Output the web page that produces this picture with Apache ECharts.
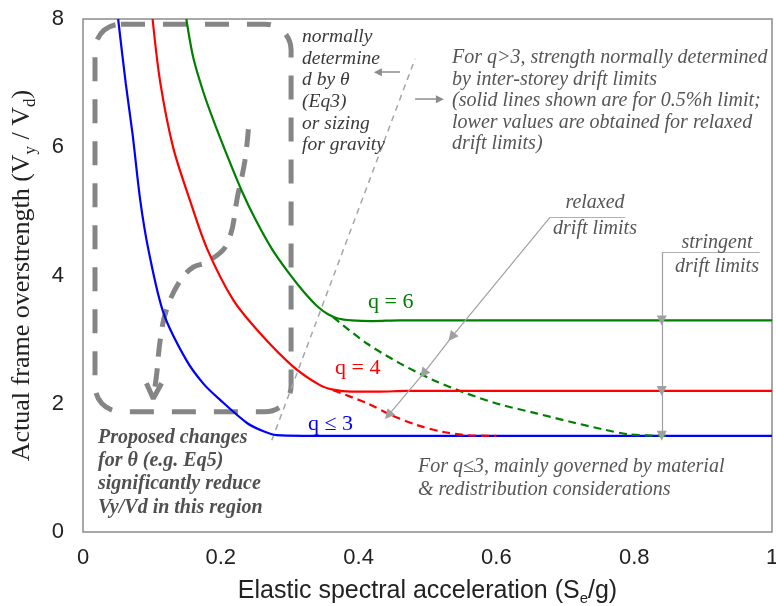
<!DOCTYPE html>
<html>
<head>
<meta charset="utf-8">
<script src="https://cdn.jsdelivr.net/npm/echarts@6/dist/echarts.min.js"></script>
<style>
  html, body { margin: 0; padding: 0; background: #fff; }
  #chart { width: 776px; height: 606px; }
</style>
</head>
<body>
<div id="chart"></div>
<script>
// values, pairs of [Se/g, Vy/Vd]
var q3Solid = [[0.051, 8], [0.062, 7.0], [0.072, 6.2], [0.083, 5.18], [0.095, 4.40], [0.117, 3.41],
  [0.150, 2.68], [0.175, 2.31], [0.199, 2.06], [0.238, 1.70], [0.262, 1.57], [0.281, 1.51], [0.32, 1.5], [1, 1.5]];
var q4Solid = [[0.101, 8], [0.112, 7.02], [0.131, 5.99], [0.155, 5.18], [0.180, 4.42], [0.218, 3.62],
  [0.257, 3.10], [0.305, 2.58], [0.344, 2.29], [0.363, 2.22], [0.39, 2.19], [0.43, 2.19], [0.47, 2.2], [1, 2.2]];
var q4Relaxed = [[0.363, 2.21], [0.412, 2.01], [0.446, 1.83], [0.484, 1.67], [0.523, 1.56], [0.557, 1.51], [0.60, 1.5]];
var q6Solid = [[0.150, 8], [0.160, 7.4], [0.175, 6.85], [0.190, 6.4], [0.210, 5.85], [0.230, 5.33],
  [0.250, 4.88], [0.275, 4.40], [0.300, 4.02], [0.320, 3.75], [0.340, 3.52], [0.355, 3.40], [0.37, 3.33],
  [0.39, 3.30], [0.42, 3.29], [0.46, 3.3], [1, 3.3]];
var q6Relaxed = [[0.363, 3.35], [0.412, 2.94], [0.46, 2.63], [0.508, 2.37], [0.557, 2.16], [0.605, 1.99],
  [0.658, 1.85], [0.707, 1.72], [0.755, 1.60], [0.794, 1.52], [0.85, 1.5]];

// annotation geometry, also in data units
var boundaryLine = [[0.274, 1.43], [0.482, 7.38]];
var thetaArrow = [[0.240, 6.28], [0.235, 5.79], [0.225, 5.27], [0.209, 4.49], [0.180, 4.21], [0.160, 4.13],
  [0.141, 3.92], [0.121, 3.46], [0.112, 2.99], [0.107, 2.47], [0.102, 2.08]];
var thetaArrowHead = [[0.092, 2.32], [0.102, 2.08], [0.114, 2.32]];
var regionBox = [[0.0174, 7.92], [0.302, 1.876]];
var guideLines = [
  [[0.678, 4.91], [0.787, 4.91]],
  [[0.840, 4.36], [0.982, 4.36]]
];
var guideArrows = [
  [[0.678, 4.91], [0.535, 3.04]], [[0.535, 3.04], [0.494, 2.47]], [[0.494, 2.47], [0.443, 1.82]],
  [[0.840, 4.36], [0.840, 3.3]], [[0.840, 3.3], [0.840, 2.2]], [[0.840, 2.2], [0.840, 1.5]]
];
var sideArrows = [
  [[0.460, 7.17], [0.428, 7.17]],
  [[0.482, 6.75], [0.518, 6.75]]
];

var xMin = 0, xMax = 1, xStep = 0.2;
var yMin = 0, yMax = 8, yStep = 2;

var serif = '"Liberation Serif", "DejaVu Serif", serif';
var sans = '"Liberation Sans", Arial, sans-serif';

var myChart = echarts.init(document.getElementById('chart'), null, { renderer: 'canvas' });

function curve(data, color, dashed, z) {
  return {
    type: 'line',
    data: data,
    showSymbol: false,
    symbol: 'none',
    smooth: 0.3,
    z: z || 3,
    lineStyle: { color: color, width: 2.2, type: dashed ? [8, 5] : 'solid' }
  };
}

myChart.setOption({
  animation: false,
  grid: {
    left: 83, top: 19, right: 4, bottom: 74,
    outerBoundsMode: 'none', containLabel: false,
    show: true, borderColor: '#8c8c8c', borderWidth: 1.5, backgroundColor: '#fff'
  },
  xAxis: {
    type: 'value', min: xMin, max: xMax, interval: xStep,
    axisLine: { show: false }, axisTick: { show: false }, splitLine: { show: false },
    axisLabel: { color: '#222', fontSize: 22, fontFamily: sans, margin: 15 },
    name: '{n|Elastic spectral acceleration (S}{s|e}{n|/g)}',
    nameLocation: 'middle', nameGap: 44,
    nameTextStyle: {
      rich: {
        n: { fontSize: 25, fontFamily: sans, color: '#222', lineHeight: 30 },
        s: { fontSize: 15, fontFamily: sans, color: '#222', verticalAlign: 'bottom', lineHeight: 14 }
      }
    }
  },
  yAxis: {
    type: 'value', min: yMin, max: yMax, interval: yStep,
    axisLine: { show: false }, axisTick: { show: false }, splitLine: { show: false },
    axisLabel: { color: '#222', fontSize: 22, fontFamily: sans, margin: 19 },
    name: '{n|Actual frame overstrength (V}{s|y}{n| / V}{s|d}{n|)}',
    nameLocation: 'middle', nameGap: 44,
    nameTextStyle: {
      rich: {
        n: { fontSize: 26, fontFamily: serif, color: '#222', lineHeight: 34 },
        s: { fontSize: 17, fontFamily: serif, color: '#222', verticalAlign: 'bottom', lineHeight: 16 }
      }
    }
  },
  series: [
    {
      type: 'line', data: boundaryLine, showSymbol: false, symbol: 'none', z: 2,
      lineStyle: { color: '#a6a6a6', width: 1.5, type: [6, 5] }
    },
    {
      type: 'line', data: thetaArrow, showSymbol: false, symbol: 'none', smooth: 0.4, z: 1,
      lineStyle: { color: '#858585', width: 5, type: [18, 12] }
    },
    {
      type: 'line', data: thetaArrowHead, showSymbol: false, symbol: 'none', z: 1,
      lineStyle: { color: '#858585', width: 5 }
    },
    curve(q3Solid, '#0000ff', false, 3),
    curve(q4Relaxed, '#ff0000', true, 4),
    curve(q6Relaxed, '#008000', true, 4),
    curve(q4Solid, '#ff0000', false, 5),
    curve(q6Solid, '#008000', false, 5),
    {
      type: 'lines', coordinateSystem: 'cartesian2d', z: 6,
      symbol: ['none', 'none'],
      lineStyle: { color: '#b0b0b0', width: 1.2, opacity: 1 },
      data: guideLines.map(function (c) { return { coords: c }; })
    },
    {
      type: 'lines', coordinateSystem: 'cartesian2d', z: 6,
      symbol: ['none', 'triangle'], symbolSize: [9, 10],
      lineStyle: { color: '#a0a0a0', width: 1.2, opacity: 1 },
      data: guideArrows.map(function (c) { return { coords: c }; })
    },
    {
      type: 'lines', coordinateSystem: 'cartesian2d', z: 6,
      symbol: ['none', 'triangle'], symbolSize: [7, 8],
      lineStyle: { color: '#8c8c8c', width: 1.5, opacity: 1 },
      data: sideArrows.map(function (c) { return { coords: c }; })
    }
  ]
});

// the dashed rounded box needs pixel corners, so place it after the axes exist
var p1 = myChart.convertToPixel({ gridIndex: 0 }, regionBox[0]);
var p2 = myChart.convertToPixel({ gridIndex: 0 }, regionBox[1]);

function note(text, x, y, font, color, lh, align) {
  return {
    type: 'text', x: x, y: y, z: 20,
    style: {
      text: text, font: font, fill: color, lineHeight: lh,
      align: align || 'left', verticalAlign: 'top'
    }
  };
}

var italic = 'italic 19.5px ' + serif;
var italic20 = 'italic 20px ' + serif;

myChart.setOption({
  graphic: [
    {
      type: 'rect', z: 0, silent: true,
      shape: { x: p1[0], y: p1[1], width: p2[0] - p1[0], height: p2[1] - p1[1], r: 26 },
      style: { fill: 'none', stroke: '#858585', lineWidth: 5, lineDash: [24, 18] }
    },
    note('normally\ndetermine\nd by \u03b8\n(Eq3)\nor sizing\nfor gravity', 302, 26, italic, '#3a3a3a', 21.7),
    note('For q>3, strength normally determined\nby inter-storey drift limits\n(solid lines shown are for 0.5%h limit;\nlower values are obtained for relaxed\ndrift limits)',
      452, 47, italic20, '#555', 21.5),
    note('relaxed\ndrift limits', 595, 190, italic20, '#555', 26, 'center'),
    note('stringent\ndrift limits', 717, 230, italic20, '#555', 24.5, 'center'),
    note('Proposed changes\nfor \u03b8 (e.g. Eq5)\nsignificantly reduce\nVy/Vd in this region', 98, 426, 'italic bold 20px ' + serif, '#505050', 23.3),
    note('For q\u22643, mainly governed by material\n& redistribution considerations', 418, 455, italic20, '#555', 23.3),
    {
      type: 'text', x: 368, y: 302, z: 20,
      style: { text: 'q = 6', font: '22px ' + serif, fill: '#008000', verticalAlign: 'middle' }
    },
    {
      type: 'text', x: 335, y: 368, z: 20,
      style: { text: 'q = 4', font: '22px ' + serif, fill: '#ff0000', verticalAlign: 'middle' }
    },
    {
      type: 'text', x: 308, y: 424, z: 20,
      style: { text: 'q \u2264 3', font: '22px ' + serif, fill: '#0000ff', verticalAlign: 'middle' }
    }
  ]
});
</script>
</body>
</html>
